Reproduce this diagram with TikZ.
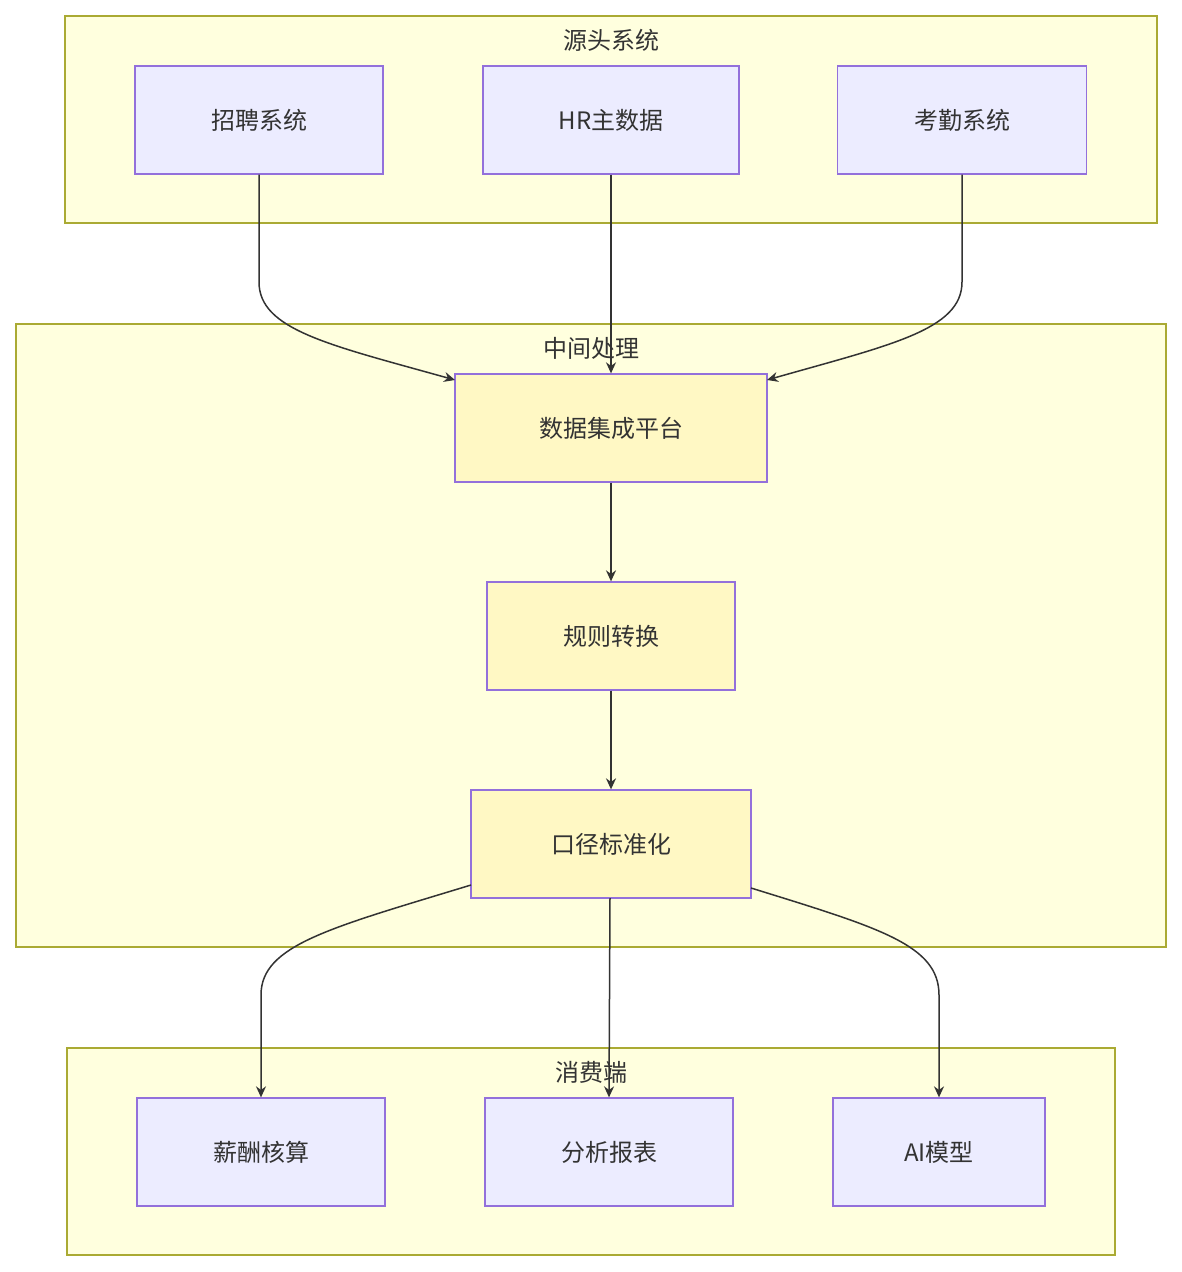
\documentclass[tikz,border=0pt]{standalone}
\usepackage{fontspec}
\newfontfamily\cjk{Noto Sans CJK SC}
\usetikzlibrary{arrows.meta}
\definecolor{clf}{HTML}{FFFFDE}
\definecolor{clb}{HTML}{AAAA33}
\definecolor{nf}{HTML}{ECECFF}
\definecolor{nb}{HTML}{9370DB}
\definecolor{mf}{HTML}{FFF8C4}
\definecolor{tx}{HTML}{333333}
\begin{document}
\begin{tikzpicture}[x=1pt,y=-1pt,
  cl/.style={draw=clb,fill=clf,line width=1.3pt},
  ttl/.style={font=\cjk\fontsize{24}{28}\selectfont,text=tx,inner sep=0pt},
  nd/.style={draw=nb,fill=nf,line width=1.3pt,font=\cjk\fontsize{24}{28}\selectfont,text=tx,minimum height=108pt},
  md/.style={nd,fill=mf},
  ar/.style={draw=tx,line width=1.5pt,-{Stealth[length=11pt,width=10pt]}}]
\useasboundingbox (0,0) rectangle (1181,1272);
\draw[cl] (65,16) rectangle (1157,223);
\draw[cl] (16,324) rectangle (1166,947);
\draw[cl] (67,1048) rectangle (1115,1255);
\node[ttl] (t1) at (611,40) {源头系统};
\node[ttl] (t2) at (591,348) {中间处理};
\node[ttl] (t3) at (591,1072) {消费端};
\node[nd,minimum width=248pt] (a) at (259,120) {招聘系统};
\node[nd,minimum width=256pt] (b) at (611,120) {HR主数据};
\node[nd,minimum width=249pt] (c) at (962,120) {考勤系统};
\node[md,minimum width=312pt] (d) at (611,428) {数据集成平台};
\node[md,minimum width=248pt] (e) at (611,636) {规则转换};
\node[md,minimum width=280pt] (f) at (611,844) {口径标准化};
\node[nd,minimum width=248pt] (g) at (261,1152) {薪酬核算};
\node[nd,minimum width=248pt] (h) at (609,1152) {分析报表};
\node[nd,minimum width=212pt] (i) at (939,1152) {AI模型};
\coordinate (dl) at (455,380);
\coordinate (dr) at (767,380);
\draw[ar] (a.south) -- (259,282) .. controls (259,330) and (330,345) .. (dl);
\draw[ar] (b.south) -- (d.north);
\draw[ar] (c.south) -- (962,282) .. controls (962,330) and (890,345) .. (dr);
\draw[ar] (d) -- (e);
\draw[ar] (e) -- (f);
\coordinate (fl) at (471,885);
\coordinate (fr) at (751,888);
\draw[ar] (fl) .. controls (330,928) and (261,945) .. (261,995) -- (g.north);
\draw[ar] (610,898) -- (h.north);
\draw[ar] (fr) .. controls (880,928) and (939,945) .. (939,995) -- (i.north);
\end{tikzpicture}
\end{document}
